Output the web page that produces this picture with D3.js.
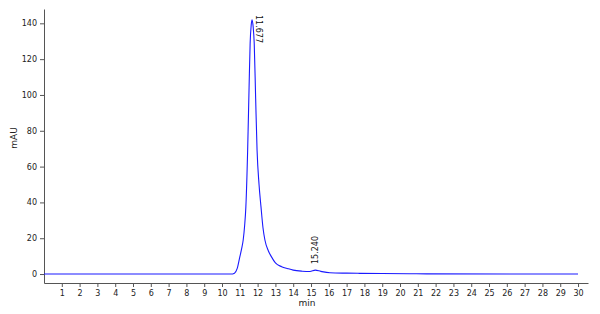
<!DOCTYPE html>
<html>
<head>
<meta charset="utf-8">
<script src="https://cdn.jsdelivr.net/npm/d3@7"></script>
<style>
  body { margin: 0; background: #fff; }
  svg { display: block; font-family: "DejaVu Sans", sans-serif; }
</style>
</head>
<body>
<div id="chart"></div>
<script>
// retention time (min) and absorbance (mAU)
const times = [0, 10.5, 10.7, 10.85, 11.0, 11.1, 11.19, 11.27, 11.34, 11.44, 11.52, 11.58, 11.64, 11.69,
  11.75, 11.81, 11.89, 11.97, 12.08, 12.19, 12.3, 12.41, 12.6, 12.78, 13.0, 13.35, 13.7, 14.0, 14.5,
  14.94, 15.24, 15.55, 16.06, 17.0, 17.7, 19.0, 21.5, 30];
const mau = [0, 0, 0.5, 3, 9.6, 14, 19, 27, 37.5, 69, 104, 128.8, 139, 142,
  138, 128.8, 98, 69, 50, 37.5, 26, 19, 13, 9.6, 6.2, 4.1, 3, 2.2, 1.6,
  1.4, 2.2, 1.5, 0.7, 0.5, 0.4, 0.3, 0.1, 0];

const peakTimes = [11.677, 15.240];
const peakLabels = ['11.677', '15.240'];

const xTicks = d3.range(1, 31);
const yTicks = [0, 20, 40, 60, 80, 100, 120, 140];

const width = 600, height = 314;

const svg = d3.select('#chart')
  .append('svg')
    .attr('width', width)
    .attr('height', height);

// scales
const x = d3.scaleLinear()
  .domain([0, 30.56])
  .range([44, 588]);

const y = d3.scaleLinear()
  .domain([-5, 148])
  .range([283, 9]);

// axes
const xAxis = svg.append('g')
  .attr('transform', `translate(0, ${y(-5)})`)
  .call(d3.axisBottom(x).tickValues(xTicks).tickSize(4).tickPadding(3).tickSizeOuter(0));

const yAxis = svg.append('g')
  .attr('transform', `translate(${x(0)}, 0)`)
  .call(d3.axisLeft(y).tickValues(yTicks).tickSize(4).tickPadding(3).tickSizeOuter(0));

[xAxis, yAxis].forEach(g => {
  g.select('.domain').attr('stroke', '#555');
  g.selectAll('.tick line').attr('stroke', '#555');
  g.selectAll('.tick text')
    .attr('fill', '#222')
    .style('font-size', '8px')
    .style('font-family', '"DejaVu Sans", sans-serif');
});

// axis titles
svg.append('text')
  .attr('x', 307)
  .attr('y', 306)
  .attr('text-anchor', 'middle')
  .attr('fill', '#222')
  .style('font-size', '9px')
  .text('min');

svg.append('text')
  .attr('transform', `translate(17, 138) rotate(-90)`)
  .attr('text-anchor', 'middle')
  .attr('fill', '#222')
  .style('font-size', '9px')
  .text('mAU');

// trace
const data = times.map((t, i) => ({t: t, v: mau[i]}));

svg.append('path')
  .datum(data)
  .attr('d', d3.line()
    .x(d => x(d.t))
    .y(d => y(d.v))
    .curve(d3.curveMonotoneX))
  .attr('fill', 'none')
  .attr('stroke', '#1a1aff')
  .attr('stroke-width', 1.1);

// peak labels
svg.append('text')
  .attr('transform', `translate(${x(peakTimes[0]) + 4.5}, 15) rotate(90)`)
  .attr('fill', '#111')
  .style('font-size', '8px')
  .text(peakLabels[0]);

svg.append('text')
  .attr('transform', `translate(${x(peakTimes[1]) + 3}, 264) rotate(-90)`)
  .attr('fill', '#111')
  .style('font-size', '8px')
  .text(peakLabels[1]);
</script>
</body>
</html>
